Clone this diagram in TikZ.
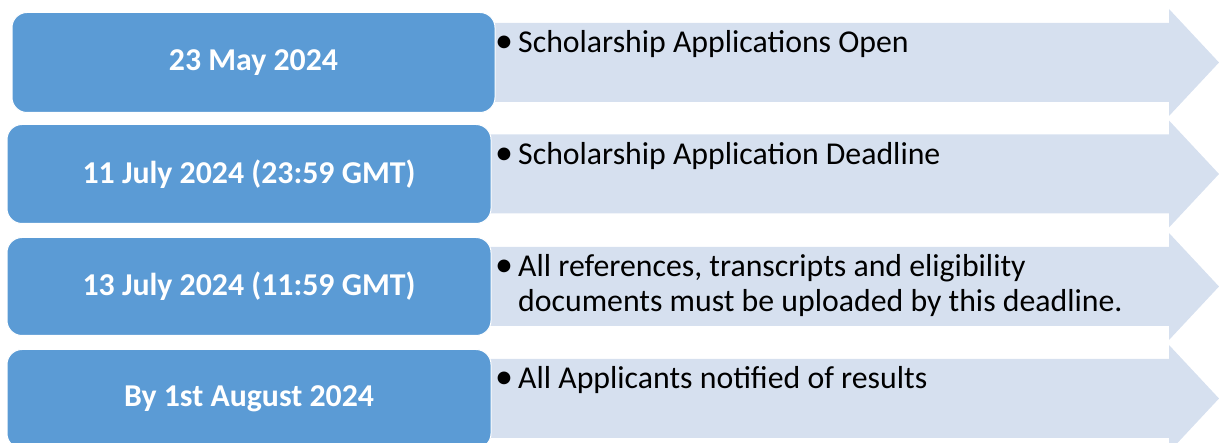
\documentclass[tikz,border=0pt]{standalone}
\usepackage{fontspec}
\setmainfont{Carlito}
\definecolor{boxblue}{HTML}{5B9BD5}
\definecolor{arrowfill}{HTML}{D6E0EF}
\newcommand{\rowarrow}[1]{%
  \fill[arrowfill] (480,#1-39.5) -- (1169,#1-39.5) -- (1169,#1-53.5) -- (1219,#1)
    -- (1169,#1+53.5) -- (1169,#1+39.5) -- (480,#1+39.5) -- cycle;}
\begin{document}
\begin{tikzpicture}[x=1pt,y=-1pt,
  datebox/.style={rectangle, fill=boxblue, draw=white, line width=1pt,
    rounded corners=15pt, text=white, inner sep=0pt,
    font=\fontsize{31.8}{38}\selectfont\bfseries},
  bullet/.style={anchor=base west, inner sep=0pt, text=black,
    font=\fontsize{36}{36}\selectfont},
  itemtext/.style={anchor=base west, inner sep=0pt, text=black,
    font=\fontsize{31.8}{35}\selectfont},
]
\useasboundingbox (0,0) rectangle (1219,443);
\clip (0,0) rectangle (1219,443);

% arrows (background)
\rowarrow{62.5}
\rowarrow{174}
\rowarrow{286.5}
\rowarrow{398.5}

% date boxes
\node[datebox, minimum width=483pt, minimum height=100pt] (d1) at (253.5,62.5) {23 May 2024};
\node[datebox, minimum width=484pt, minimum height=99pt] (d2) at (249,174) {11 July 2024 (23:59 GMT)};
\node[datebox, minimum width=484pt, minimum height=98pt] (d3) at (249,286.5) {13 July 2024 (11:59 GMT)};
\node[datebox, minimum width=484pt, minimum height=99pt] (d4) at (249,399) {By 1st August 2024};

% bullets and items
\node[bullet] (b1) at (495,53) {•};
\node[itemtext] (t1) at (518,53) {Scholarship Applications Open};
\node[bullet] (b2) at (495,164.5) {•};
\node[itemtext] (t2) at (518,164.5) {Scholarship Application Deadline};
\node[bullet] (b3) at (495,277) {•};
\node[itemtext] (t3) at (518,277) {\parbox[t]{640pt}{All references, transcripts and eligibility\\documents must be uploaded by this deadline.}};
\node[bullet] (b4) at (495,389) {•};
\node[itemtext] (t4) at (518,389) {All Applicants notified of results};
\end{tikzpicture}
\end{document}
